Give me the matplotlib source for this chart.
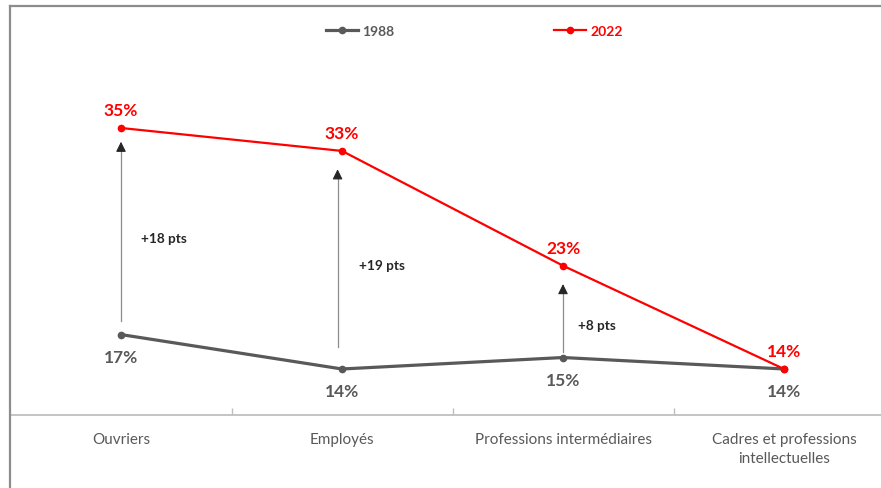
import matplotlib.pyplot as plt
from matplotlib.lines import Line2D

plt.rcParams['font.family'] = ['Lato', 'DejaVu Sans']

# data
categories = ["Ouvriers", "Employés", "Professions intermédiaires",
              "Cadres et professions\nintellectuelles"]
v1988 = [17, 14, 15, 14]
v2022 = [35, 33, 23, 14]
gaps = ["+18 pts", "+19 pts", "+8 pts"]
arrow_from = [18.2, 15.9, 15.5]
arrow_to = [33.8, 31.4, 21.4]

GREY = "#595959"
RED = "#FF0000"

fig = plt.figure(figsize=(8.81, 4.89), dpi=100)
ax = fig.add_axes([10.5 / 881, 73.1 / 489, 884 / 881, 344.3 / 489])
x = list(range(len(categories)))

ax.plot(x, v1988, color=GREY, lw=2.3, marker="o", ms=4.5, label="1988", zorder=3)
ax.plot(x, v2022, color=RED, lw=1.6, marker="o", ms=4.5, label="2022", zorder=4)

for i, v in enumerate(v1988):
    ax.annotate(f"{v}%", (i, v), xytext=(0, -16), textcoords="offset points",
                ha="center", va="center", color=GREY, fontsize=12.5, fontweight="bold")
for i, v in enumerate(v2022):
    ax.annotate(f"{v}%", (i, v), xytext=(0, 13), textcoords="offset points",
                ha="center", va="center", color=RED, fontsize=12.5, fontweight="bold")

# arrows showing the gap
for i, (y0, y1, txt) in enumerate(zip(arrow_from, arrow_to, gaps)):
    xa = i - (0.02 if i == 1 else 0)
    ax.plot([xa, xa], [y0, y1 - 0.3], color="#8c8c8c", lw=0.9, zorder=2)
    ax.annotate("", xy=(xa, y1), xytext=(xa, y1 - 0.8),
                arrowprops=dict(arrowstyle="-|>,head_length=0.6,head_width=0.3",
                                color="#262626", lw=0.8, shrinkA=0, shrinkB=0))
    ax.text(i + 0.09 - 0.012 * i, (y0 + y1) / 2 - 0.6, txt, ha="left", va="center",
            fontsize=9.8, fontweight="bold", color="#262626")

ax.set_xlim(-0.5, 3.5)
ax.set_ylim(10, 40)
ax.set_yticks([])
ax.set_xticks(x)
ax.set_xticklabels(categories, color=GREY, fontsize=11, linespacing=1.45)
ax.set_xticks([0.5, 1.5, 2.5], minor=True)
ax.tick_params(axis="x", which="major", length=0, pad=12)
ax.tick_params(axis="x", which="minor", direction="in", length=5, color="#bfbfbf", width=1)
for s in ["left", "right", "top"]:
    ax.spines[s].set_visible(False)
ax.spines["bottom"].set_color("#bfbfbf")
ax.spines["bottom"].set_linewidth(1.3)

leg = ax.legend(loc="center", bbox_to_anchor=(474.5 / 881, 1 - 32 / 489),
                bbox_transform=fig.transFigure, ncol=2, frameon=False,
                handlelength=2.3, handletextpad=0.3, columnspacing=11.5,
                prop={"weight": "bold", "size": 10}, labelcolor="linecolor")

# outer frame (left and top edges)
fig.add_artist(Line2D([10 / 881, 10 / 881], [0, 1 - 7 / 489], color="#8c8c8c", lw=1.6,
                      transform=fig.transFigure))
fig.add_artist(Line2D([10 / 881, 1], [1 - 7 / 489, 1 - 7 / 489], color="#8c8c8c", lw=1.6,
                      transform=fig.transFigure))

fig.savefig("out.png", dpi=100)
